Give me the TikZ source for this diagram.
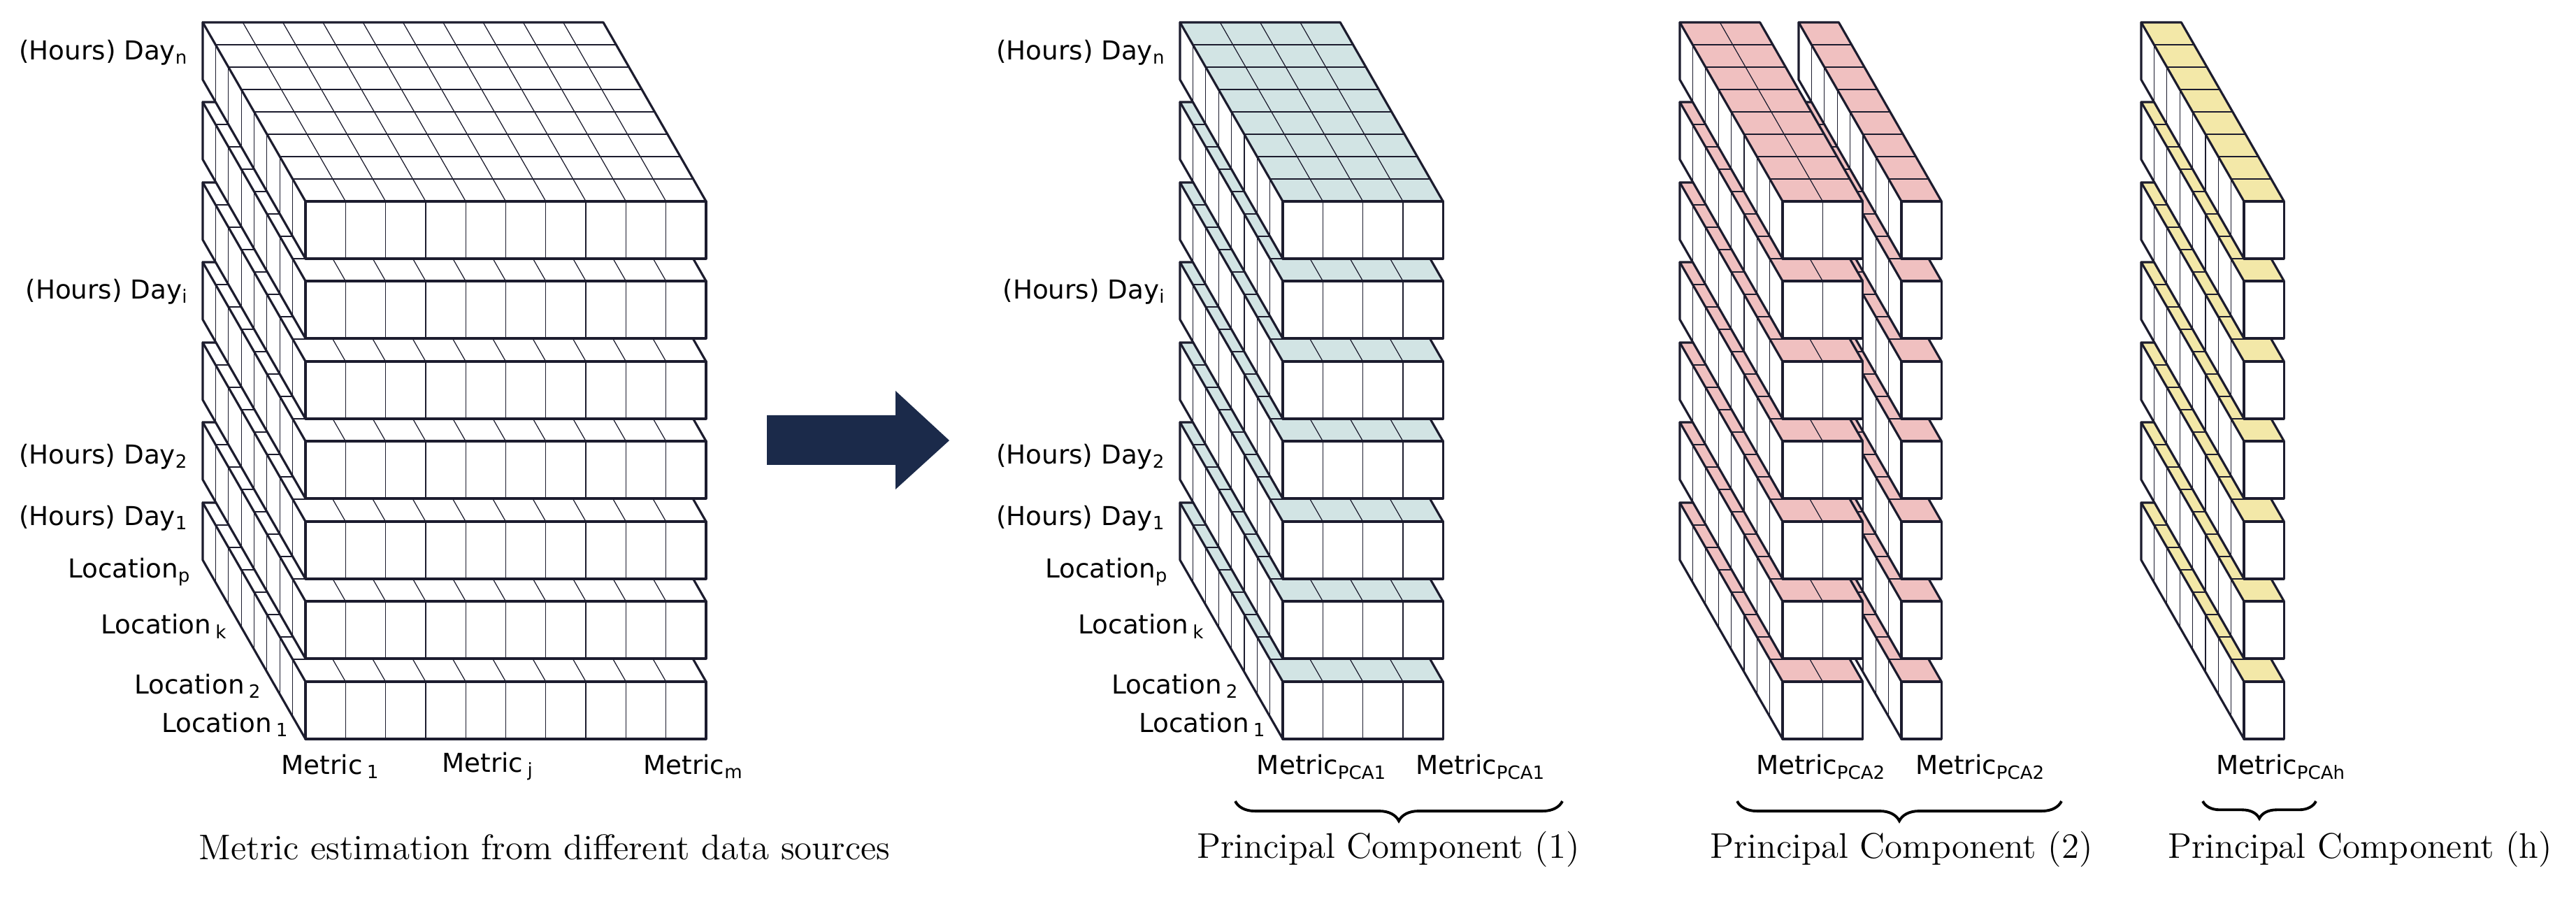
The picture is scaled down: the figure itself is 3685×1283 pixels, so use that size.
\documentclass[tikz,border=0pt]{standalone}
\usepackage{fontspec}
\newfontfamily\labf{DejaVu Sans}
\usetikzlibrary{decorations.pathreplacing}
\definecolor{edge}{HTML}{1C1C2E}
\definecolor{cblue}{HTML}{D2E4E4}
\definecolor{cpink}{HTML}{F0C0C0}
\definecolor{cyel}{HTML}{F3E8A8}
\definecolor{navy}{HTML}{1B2A4A}
\newcommand\myslab[4]{% x, y (front top left), ncols, colour
  \pgfmathsetmacro\slw{#3*57.3}
  % top face
  \filldraw[fill=#4,draw=edge,line width=0.3pt] (#1,#2) -- ++(\slw,0) -- ++(-147,-256) -- ++(-\slw,0) -- cycle;
  \foreach \i in {1,...,7} \draw[thinl] (#1-\i*18.375,#2-\i*32) -- ++(\slw,0);
  \foreach \j in {1,...,#3} \draw[thinl] (#1+\j*57.3,#2) -- ++(-147,-256);
  % left face
  \filldraw[fill=white,draw=edge,line width=0.3pt] (#1,#2) -- (#1,#2+82) -- ++(-147,-256) -- ++(0,-82) -- cycle;
  \foreach \i in {1,...,7} \draw[thinl] (#1-\i*18.375,#2-\i*32) -- ++(0,82);
  % front face
  \fill[white] (#1,#2) rectangle (#1+\slw,#2+82);
  \foreach \j in {1,...,#3} \draw[thinl] (#1+\j*57.3,#2) -- ++(0,82);
  \draw[thk] (#1,#2) rectangle (#1+\slw,#2+82);
  \draw[thk] (#1,#2) -- ++(-147,-256) -- ++(\slw,0) -- (#1+\slw,#2);
  \draw[thk] (#1,#2+82) -- ++(-147,-256) -- ++(0,-82);
}
\newcommand\mystack[3]{\foreach \yy in {975,860,746,631,517,402,288} {\myslab{#1}{\yy}{#2}{#3}}}
\begin{document}
\begin{tikzpicture}[x=0.01cm,y=-0.01cm,
  thinl/.style={draw=edge,line width=0.35pt},
  thk/.style={draw=edge,line width=0.9pt,line join=round},
  lab/.style={font=\labf\fontsize{10.6}{12}\selectfont,inner sep=0pt},
  ttl/.style={font=\fontsize{14.5}{17}\selectfont,inner sep=0pt},
  br/.style={draw=black,line width=1.1pt,decorate,decoration={brace,mirror,amplitude=8pt}}]
\useasboundingbox (0,0) rectangle (3685,1283);
% left cube
\mystack{437}{10}{white}
% middle
\mystack{1835}{4}{cblue}
% PCA2
\mystack{2720}{1}{cpink}
\mystack{2550}{2}{cpink}
% PCAh
\mystack{3210}{1}{cyel}
% arrow
\fill[navy] (1097,594) -- (1281,594) -- (1281,559) -- (1358,630) -- (1281,700) -- (1281,665) -- (1097,665) -- cycle;
% left labels
\foreach \dx/\nm in {0/a,1398/b}{
 \node[lab,anchor=east] (dn\nm) at (270+\dx,75) {(Hours) Day\textsubscript{n}};
 \node[lab,anchor=east] (di\nm) at (270+\dx,417) {(Hours) Day\textsubscript{i}};
 \node[lab,anchor=east] (d2\nm) at (270+\dx,653) {(Hours) Day\textsubscript{2}};
 \node[lab,anchor=east] (d1\nm) at (270+\dx,741) {(Hours) Day\textsubscript{1}};
 \node[lab,anchor=east] (lp\nm) at (274+\dx,818) {Location\textsubscript{p}};
 \node[lab,anchor=east] (lk\nm) at (326+\dx,896) {Location\,\textsubscript{k}};
 \node[lab,anchor=east] (l2\nm) at (375+\dx,981) {Location\,\textsubscript{2}};
 \node[lab,anchor=east] (l1\nm) at (414+\dx,1036) {Location\,\textsubscript{1}};
}
\node[lab] (m1) at (473,1096) {Metric\,\textsubscript{1}};
\node[lab] (mj) at (698,1096) {Metric\,\textsubscript{j}};
\node[lab] (mm) at (992,1096) {Metric\textsubscript{m}};
\node[ttl] (t0) at (779,1212) {Metric estimation from different data sources};
\node[lab] (p1a) at (1891,1097) {Metric\textsubscript{PCA1}};
\node[lab] (p1b) at (2118,1097) {Metric\textsubscript{PCA1}};
\node[lab] (p2a) at (2605,1097) {Metric\textsubscript{PCA2}};
\node[lab] (p2b) at (2833,1097) {Metric\textsubscript{PCA2}};
\node[lab] (ph) at (3263,1097) {Metric\textsubscript{PCAh}};
\coordinate (b1l) at (1767,1146); \coordinate (b1r) at (2235,1146);
\coordinate (b2l) at (2485,1146); \coordinate (b2r) at (2949,1146);
\coordinate (bhl) at (3151,1146); \coordinate (bhr) at (3313,1146);
\draw[br] (b1l) -- (b1r);
\draw[br] (b2l) -- (b2r);
\draw[br,decoration={brace,mirror,amplitude=7pt}] (bhl) -- (bhr);
\node[ttl] (t1) at (1986,1215) {Principal Component (1)};
\node[ttl] (t2) at (2720,1215) {Principal Component (2)};
\node[ttl] (t3) at (3376,1215) {Principal Component (h)};
\end{tikzpicture}
\end{document}
